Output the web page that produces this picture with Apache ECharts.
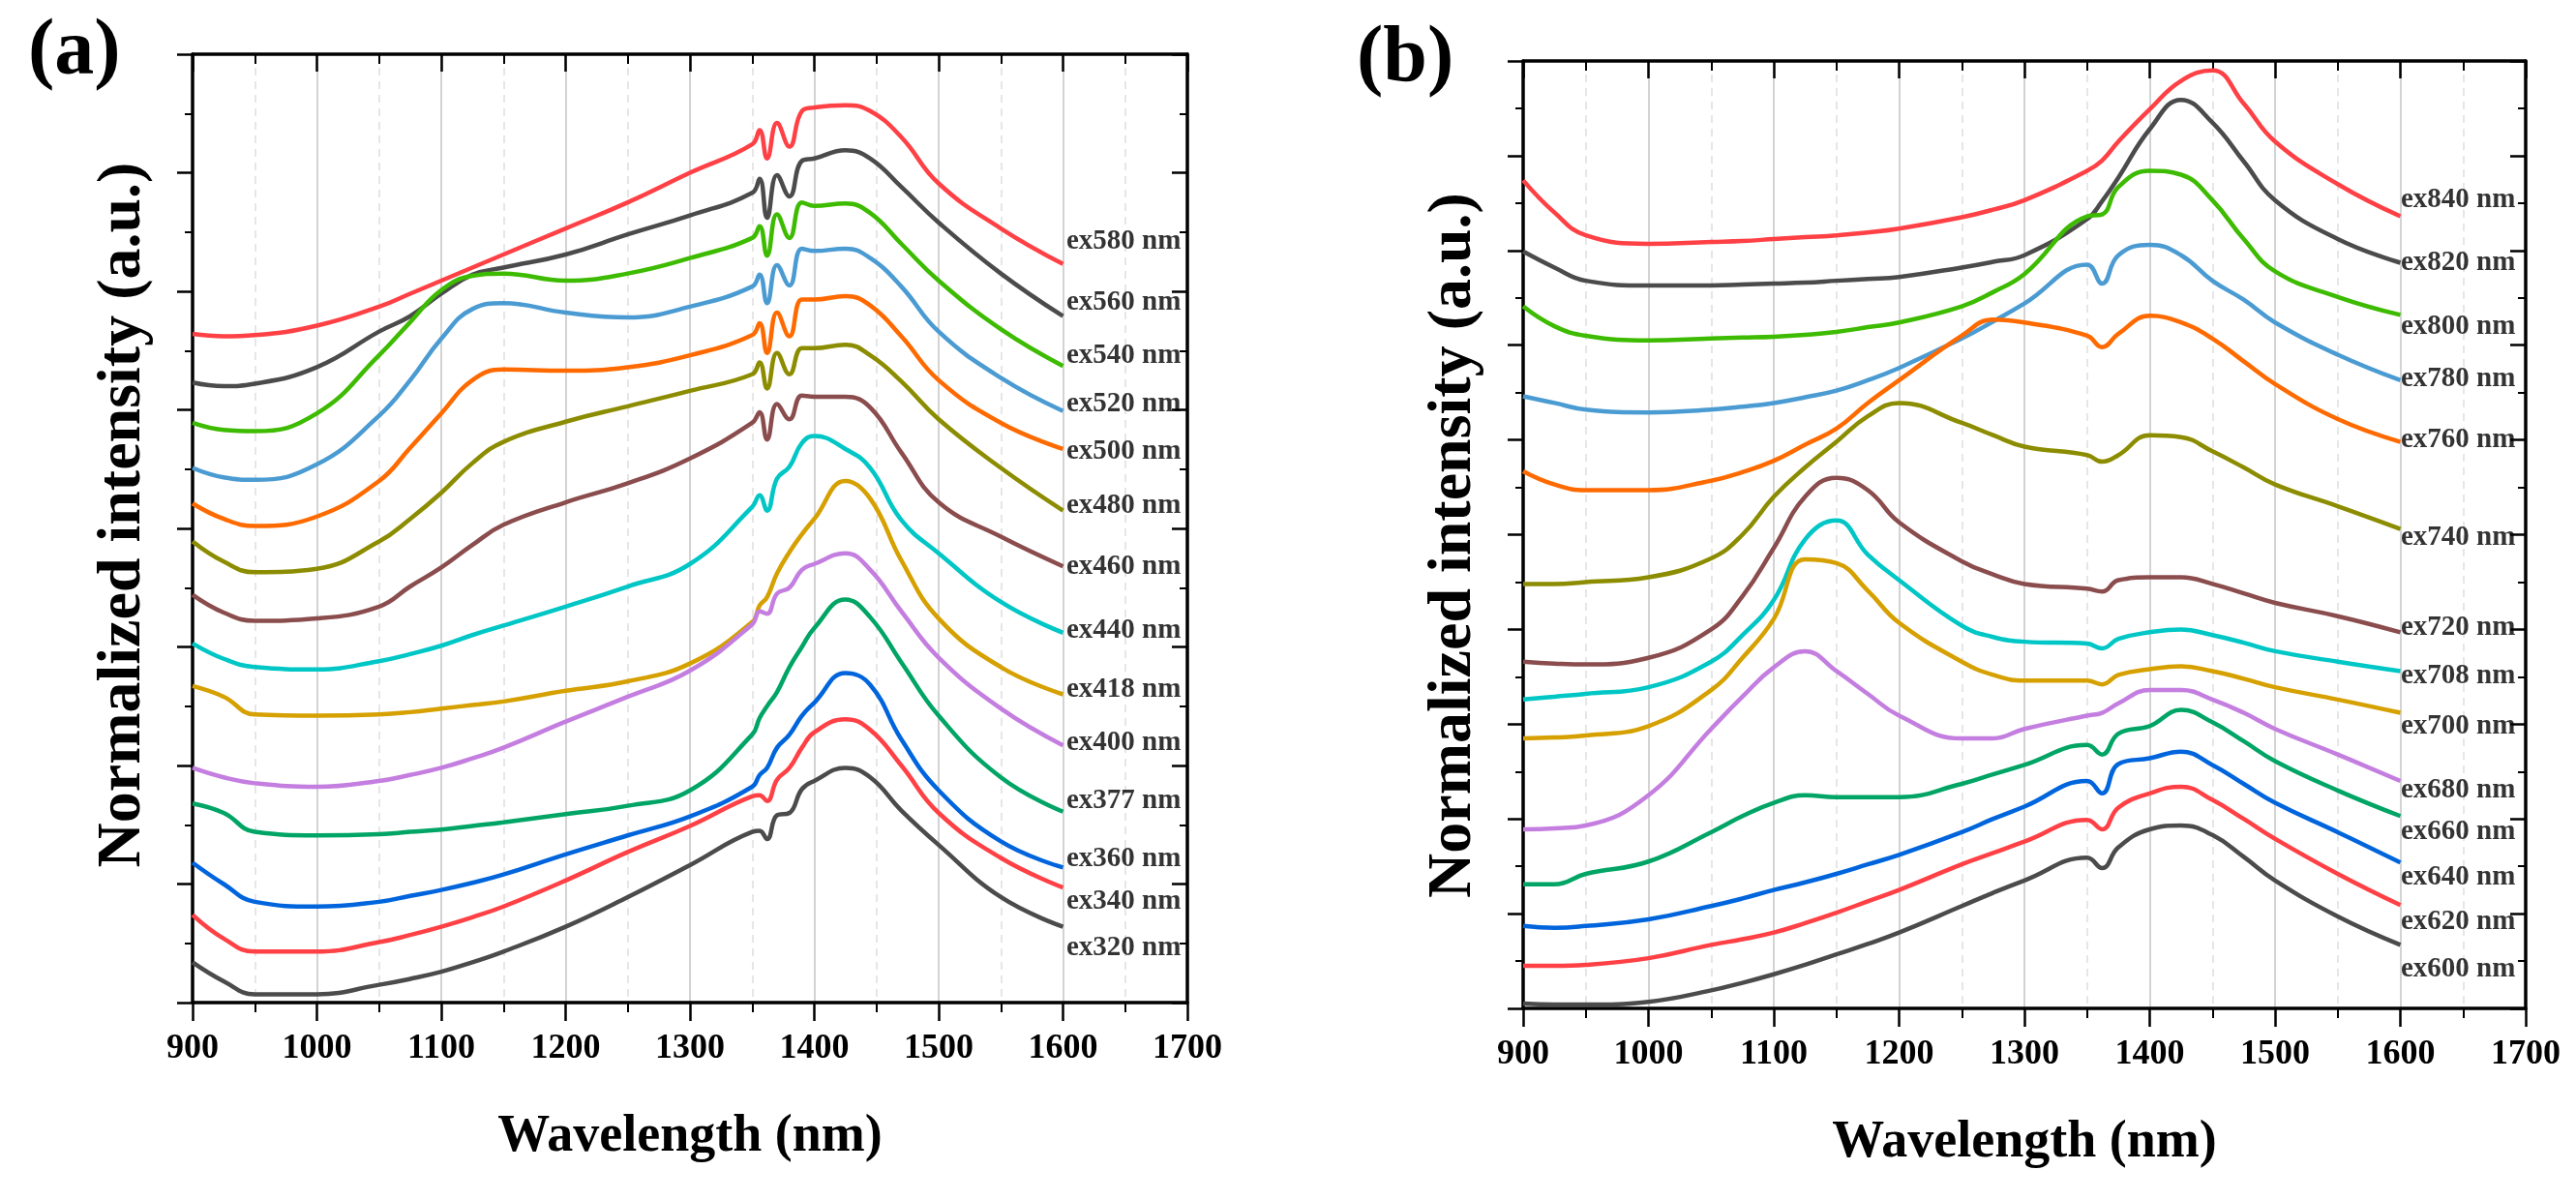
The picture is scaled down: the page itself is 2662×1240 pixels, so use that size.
<!DOCTYPE html>
<html><head><meta charset="utf-8">
<script src="https://cdn.jsdelivr.net/npm/echarts@6/dist/echarts.min.js"></script>
<style>html,body{margin:0;padding:0;background:#fff}#c{width:2662px;height:1240px}</style>
</head><body><div id="c"></div>
<script>
// ---------- Panel (a) ----------
const WL_A = [900, 925, 950, 1000, 1050, 1075, 1100, 1125, 1150, 1200, 1250, 1300, 1350, 1356, 1362, 1370, 1380, 1390, 1400, 1425, 1445, 1470, 1500, 1550, 1600];
const NAMES_A = ['ex580 nm','ex560 nm','ex540 nm','ex520 nm','ex500 nm','ex480 nm','ex460 nm','ex440 nm','ex418 nm','ex400 nm','ex377 nm','ex360 nm','ex340 nm','ex320 nm'];
const A_580 = [5.64,5.62,5.63,5.71,5.87,5.98,6.09,6.20,6.31,6.53,6.75,7.00,7.24,7.36,7.12,7.42,7.22,7.52,7.55,7.57,7.52,7.30,6.91,6.53,6.23];
const A_560 = [5.23,5.20,5.22,5.36,5.66,5.79,5.98,6.14,6.20,6.31,6.48,6.64,6.83,6.95,6.62,6.98,6.80,7.10,7.12,7.19,7.12,6.88,6.58,6.15,5.79];
const A_540 = [4.89,4.83,4.82,4.97,5.46,5.74,6.01,6.13,6.15,6.09,6.15,6.28,6.45,6.55,6.30,6.65,6.45,6.75,6.72,6.74,6.66,6.40,6.09,5.68,5.37];
const A_520 = [4.51,4.43,4.41,4.54,4.95,5.25,5.60,5.85,5.90,5.82,5.78,5.87,6.04,6.14,5.90,6.22,6.05,6.36,6.34,6.36,6.28,6.04,5.66,5.27,4.99];
const A_500 = [4.21,4.08,4.02,4.10,4.40,4.68,4.97,5.25,5.34,5.33,5.36,5.46,5.63,5.73,5.48,5.82,5.62,5.93,5.93,5.96,5.88,5.62,5.25,4.89,4.67];
const A_480 = [3.89,3.72,3.63,3.66,3.89,4.08,4.30,4.55,4.73,4.90,5.03,5.16,5.30,5.40,5.18,5.48,5.30,5.52,5.52,5.55,5.46,5.24,4.92,4.51,4.15];
const A_460 = [3.44,3.29,3.22,3.24,3.34,3.51,3.67,3.86,4.03,4.22,4.38,4.59,4.89,4.98,4.75,5.05,4.92,5.12,5.11,5.11,5.02,4.64,4.22,3.93,3.68];
const A_440 = [3.03,2.90,2.83,2.81,2.88,2.94,3.01,3.10,3.18,3.34,3.51,3.70,4.18,4.28,4.15,4.42,4.52,4.72,4.78,4.67,4.51,4.07,3.79,3.38,3.12];
const A_418 = [2.67,2.58,2.43,2.42,2.43,2.45,2.48,2.51,2.54,2.63,2.71,2.86,3.21,3.35,3.42,3.62,3.80,3.95,4.08,4.40,4.25,3.73,3.24,2.83,2.60];
const A_400 = [1.98,1.90,1.85,1.82,1.87,1.92,1.98,2.06,2.15,2.37,2.58,2.80,3.19,3.30,3.28,3.45,3.50,3.65,3.70,3.79,3.65,3.30,2.91,2.48,2.17];
const A_377 = [1.68,1.60,1.44,1.41,1.42,1.44,1.46,1.49,1.52,1.59,1.66,1.79,2.26,2.40,2.50,2.62,2.83,3.00,3.16,3.40,3.25,2.87,2.42,1.90,1.61];
const A_360 = [1.18,1.00,0.85,0.81,0.85,0.90,0.95,1.01,1.08,1.25,1.41,1.57,1.82,1.92,1.98,2.15,2.26,2.42,2.53,2.78,2.68,2.22,1.79,1.36,1.14];
const A_340 = [0.74,0.54,0.43,0.43,0.51,0.57,0.64,0.72,0.81,1.03,1.27,1.49,1.74,1.75,1.70,1.88,1.98,2.15,2.28,2.39,2.30,2.00,1.60,1.22,0.97];
const A_320 = [0.34,0.18,0.07,0.07,0.15,0.20,0.26,0.34,0.43,0.64,0.89,1.16,1.44,1.45,1.38,1.58,1.60,1.80,1.87,1.98,1.90,1.62,1.33,0.89,0.64];
const VALUES_A = [A_580,A_560,A_540,A_520,A_500,A_480,A_460,A_440,A_418,A_400,A_377,A_360,A_340,A_320];
const LABEL_Y_A = [6.42,5.91,5.46,5.05,4.65,4.19,3.68,3.14,2.64,2.19,1.70,1.21,0.85,0.46];

// ---------- Panel (b) ----------
const WL_B = [900, 925, 950, 1000, 1050, 1075, 1100, 1125, 1150, 1175, 1200, 1250, 1275, 1300, 1350, 1362, 1375, 1400, 1425, 1450, 1475, 1500, 1550, 1600];
const NAMES_B = ['ex840 nm','ex820 nm','ex800 nm','ex780 nm','ex760 nm','ex740 nm','ex720 nm','ex708 nm','ex700 nm','ex680 nm','ex660 nm','ex640 nm','ex620 nm','ex600 nm'];
const B_840 = [8.74,8.40,8.16,8.07,8.09,8.10,8.12,8.14,8.16,8.19,8.23,8.35,8.43,8.53,8.84,8.95,9.15,9.49,9.79,9.90,9.55,9.15,8.70,8.36];
const B_820 = [7.99,7.82,7.68,7.63,7.63,7.64,7.65,7.66,7.68,7.70,7.72,7.82,7.88,7.95,8.33,8.52,8.77,9.28,9.59,9.35,8.94,8.53,8.12,7.87];
const B_800 = [7.41,7.20,7.10,7.05,7.07,7.08,7.09,7.11,7.14,7.19,7.24,7.41,7.56,7.75,8.36,8.38,8.67,8.84,8.80,8.53,8.12,7.78,7.51,7.32];
const B_780 = [6.46,6.39,6.32,6.29,6.32,6.35,6.39,6.45,6.52,6.63,6.76,7.07,7.25,7.44,7.85,7.65,7.95,8.06,7.95,7.68,7.48,7.24,6.90,6.63];
const B_760 = [5.67,5.53,5.47,5.47,5.57,5.66,5.78,5.95,6.12,6.39,6.63,7.10,7.27,7.24,7.10,6.98,7.12,7.31,7.24,7.07,6.83,6.59,6.22,5.98];
const B_740 = [4.48,4.48,4.50,4.55,4.75,5.00,5.40,5.71,5.98,6.25,6.39,6.18,6.05,5.93,5.84,5.77,5.84,6.05,6.03,5.88,5.71,5.53,5.30,5.06];
const B_720 = [3.66,3.64,3.63,3.70,4.00,4.35,4.86,5.40,5.60,5.47,5.13,4.72,4.58,4.48,4.43,4.40,4.52,4.55,4.55,4.48,4.38,4.28,4.14,3.97];
const B_708 = [3.26,3.29,3.32,3.39,3.66,3.94,4.31,4.95,5.15,4.79,4.52,4.04,3.92,3.87,3.85,3.80,3.90,3.97,4.00,3.94,3.86,3.77,3.66,3.56];
const B_700 = [2.85,2.86,2.88,2.98,3.36,3.70,4.11,4.74,4.70,4.41,4.07,3.66,3.52,3.46,3.46,3.42,3.52,3.58,3.61,3.56,3.48,3.39,3.26,3.12];
const B_680 = [1.89,1.90,1.93,2.25,2.95,3.29,3.60,3.77,3.56,3.32,3.09,2.85,2.85,2.95,3.09,3.12,3.22,3.36,3.36,3.26,3.12,2.95,2.68,2.40];
const B_660 = [1.31,1.31,1.42,1.55,1.86,2.03,2.17,2.25,2.23,2.23,2.23,2.37,2.47,2.57,2.78,2.68,2.90,2.98,3.15,3.02,2.82,2.61,2.30,2.03];
const B_640 = [0.87,0.85,0.87,0.94,1.08,1.16,1.25,1.33,1.42,1.52,1.62,1.86,2.00,2.13,2.40,2.27,2.58,2.64,2.71,2.57,2.37,2.17,1.86,1.54];
const B_620 = [0.45,0.45,0.46,0.53,0.67,0.73,0.80,0.90,1.01,1.13,1.25,1.52,1.64,1.76,1.99,1.89,2.12,2.27,2.34,2.20,2.00,1.79,1.42,1.09];
const B_600 = [0.05,0.04,0.04,0.07,0.19,0.27,0.36,0.46,0.57,0.68,0.80,1.08,1.22,1.35,1.59,1.48,1.70,1.89,1.93,1.83,1.60,1.35,0.97,0.67];
const VALUES_B = [B_840,B_820,B_800,B_780,B_760,B_740,B_720,B_708,B_700,B_680,B_660,B_640,B_620,B_600];
const LABEL_Y_B = [8.53,7.87,7.20,6.64,6.00,4.97,4.02,3.51,2.98,2.30,1.86,1.38,0.91,0.41];

const X_TICKS = [900, 1700, 100];   // min, max, interval
const Y_MAX = [8, 10];
const LABEL_X = 1600;
const COLORS = ['#ff4045','#4b4b4b','#3dbb00','#4b9bd3','#ff6a00','#8c8c00','#8a4c4c','#00c6c6','#d5a000','#c47ee0','#00a565','#0065dc','#ff4045','#4b4b4b'];

const FONT = 'Liberation Serif';
const chart = echarts.init(document.getElementById('c'), null, {renderer: 'canvas'});

const grids = [
  {left: 199, top: 56, width: 1028, height: 980},
  {left: 1574, top: 63, width: 1036, height: 979}
];
const xAxes = [], yAxes = [], series = [];
const panels = [
  {wl: WL_A, vals: VALUES_A, names: NAMES_A, labY: LABEL_Y_A, ymax: Y_MAX[0], labDist: 3, namePad: [0,0,0,28]},
  {wl: WL_B, vals: VALUES_B, names: NAMES_B, labY: LABEL_Y_B, ymax: Y_MAX[1], labDist: 0, namePad: [0,22,0,0]}
];
panels.forEach((p, gi) => {
  const lineStyle = {color: '#000', width: 3.5};
  xAxes.push({
    gridIndex: gi, type: 'value', position: 'bottom', min: X_TICKS[0], max: X_TICKS[1], interval: X_TICKS[2],
    axisLine: {show: true, onZero: false, lineStyle},
    axisTick: {show: true, inside: false, length: 19, lineStyle: {color: '#000', width: 2.5}},
    minorTick: {show: true, splitNumber: 2, length: 10, lineStyle: {color: '#000', width: 2}},
    axisLabel: {show: true, margin: 30, fontFamily: FONT, fontWeight: 'bold', fontSize: 36, color: '#000',
      formatter: (v) => String(v)},
    splitLine: {show: true, lineStyle: {color: '#c4c4c4', width: 1.5}},
    minorSplitLine: {show: true, lineStyle: {color: '#dedede', width: 1.5, type: [8, 6]}},
    name: 'Wavelength (nm)', nameLocation: 'middle', nameGap: 112,
    nameTextStyle: {fontFamily: FONT, fontWeight: 'bold', fontSize: 54, color: '#000'}
  });
  xAxes.push({
    gridIndex: gi, type: 'value', position: 'top', min: X_TICKS[0], max: X_TICKS[1], interval: X_TICKS[2],
    axisLine: {show: true, onZero: false, lineStyle},
    axisTick: {show: true, inside: true, length: 18, lineStyle: {color: '#000', width: 2.5}},
    minorTick: {show: true, splitNumber: 2, length: 10, lineStyle: {color: '#000', width: 2}},
    axisLabel: {show: false}, splitLine: {show: false}
  });
  yAxes.push({
    gridIndex: gi, type: 'value', position: 'left', min: 0, max: p.ymax, interval: 1,
    axisLine: {show: true, onZero: false, lineStyle},
    axisTick: {show: true, inside: false, length: 16, lineStyle: {color: '#000', width: 2.5}},
    minorTick: {show: true, splitNumber: 2, length: 8, lineStyle: {color: '#000', width: 2}},
    axisLabel: {show: false}, splitLine: {show: false},
    name: 'Normalized intensity (a.u.)', nameLocation: 'middle', nameGap: 40, nameRotate: 90,
    nameTextStyle: {fontFamily: FONT, fontWeight: 'bold', fontSize: 64, color: '#000', padding: p.namePad}
  });
  yAxes.push({
    gridIndex: gi, type: 'value', position: 'right', min: 0, max: p.ymax, interval: 1,
    axisLine: {show: true, onZero: false, lineStyle},
    axisTick: {show: true, inside: true, length: 16, lineStyle: {color: '#000', width: 2.5}},
    minorTick: {show: true, splitNumber: 2, length: 8, lineStyle: {color: '#000', width: 2}},
    axisLabel: {show: false}, splitLine: {show: false}
  });
  p.vals.forEach((v, si) => {
    series.push({
      name: p.names[si], type: 'line', xAxisIndex: 2 * gi, yAxisIndex: 2 * gi,
      data: p.wl.map((x, i) => [x, v[i]]), showSymbol: false, symbol: 'none', smooth: 0.45,
      lineStyle: {color: COLORS[si], width: 4.5}, itemStyle: {color: COLORS[si]}, z: 3
    });
  });
  series.push({
    type: 'scatter', xAxisIndex: 2 * gi, yAxisIndex: 2 * gi, symbolSize: 1, z: 10, silent: true, clip: false,
    itemStyle: {color: 'rgba(0,0,0,0)'},
    data: p.labY.map(y => [LABEL_X, y]),
    label: {show: true, position: 'right', distance: p.labDist,
      formatter: (q) => p.names[q.dataIndex],
      fontFamily: FONT, fontWeight: 'bold', fontSize: 29, color: '#000'}
  });
});

chart.setOption({
  animation: false,
  backgroundColor: '#fff',
  title: [
    {text: '(a)', left: 29, top: 14, padding: 0, textStyle: {fontFamily: FONT, fontWeight: 'bold', fontSize: 82, color: '#000'}},
    {text: '(b)', left: 1402, top: 21, padding: 0, textStyle: {fontFamily: FONT, fontWeight: 'bold', fontSize: 82, color: '#000'}}
  ],
  grid: grids,
  xAxis: xAxes,
  yAxis: yAxes,
  series: series
});
</script></body></html>
